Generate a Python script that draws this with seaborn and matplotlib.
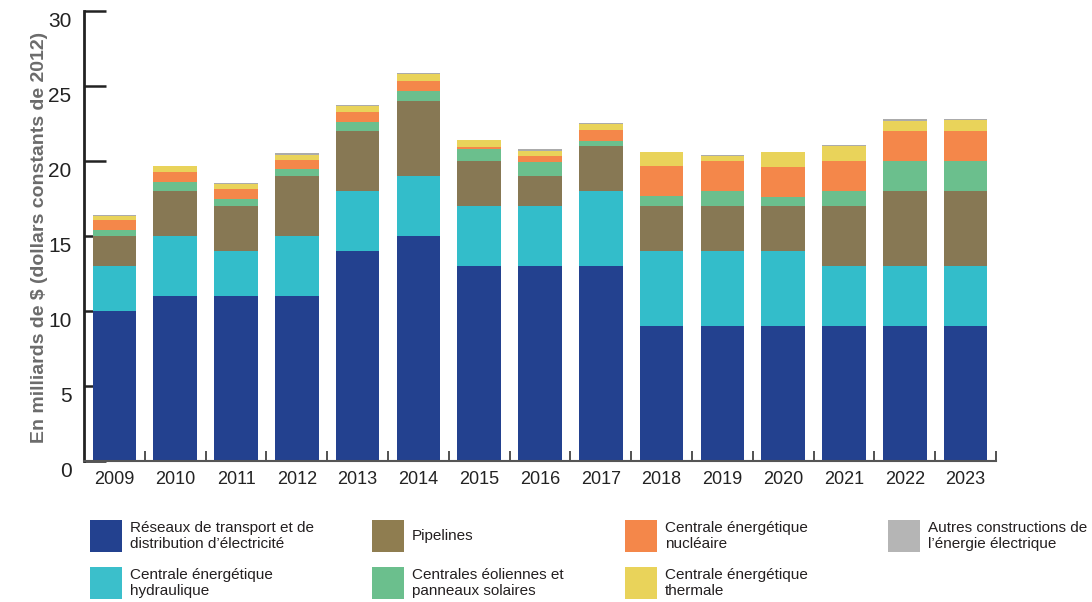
import matplotlib
matplotlib.use("Agg")
import matplotlib.pyplot as plt
import matplotlib.transforms as mtransforms
from matplotlib.patches import Rectangle
import numpy as np
import pandas as pd
import seaborn as sns

years = ["2009", "2010", "2011", "2012", "2013", "2014", "2015", "2016",
         "2017", "2018", "2019", "2020", "2021", "2022", "2023"]

reseaux     = [10, 11, 11, 11, 14, 15, 13, 13, 13, 9, 9, 9, 9, 9, 9]
hydraulique = [3, 4, 3, 4, 4, 4, 4, 4, 5, 5, 5, 5, 4, 4, 4]
pipelines   = [2, 3, 3, 4, 4, 5, 3, 2, 3, 3, 3, 3, 4, 5, 5]
eoliennes   = [0.4, 0.6, 0.5, 0.5, 0.6, 0.67, 0.8, 0.93, 0.33, 0.67, 1.0, 0.6, 1.0, 2.0, 2.0]
nucleaire   = [0.67, 0.65, 0.65, 0.6, 0.67, 0.67, 0.13, 0.4, 0.73, 2.0, 2.0, 2.0, 2.0, 2.0, 2.0]
thermale    = [0.27, 0.4, 0.33, 0.33, 0.4, 0.47, 0.47, 0.33, 0.4, 0.93, 0.33, 1.0, 1.0, 0.67, 0.73]
autres      = [0.07, 0.0, 0.07, 0.07, 0.07, 0.07, 0.0, 0.13, 0.07, 0.0, 0.07, 0.0, 0.07, 0.13, 0.07]

series_labels = [
    "Réseaux de transport et de\ndistribution d\u2019électricité",
    "Centrale énergétique\nhydraulique",
    "Pipelines",
    "Centrales éoliennes et\npanneaux solaires",
    "Centrale énergétique\nnucléaire",
    "Centrale énergétique\nthermale",
    "Autres constructions de\nl\u2019énergie électrique",
]
series_values = [reseaux, hydraulique, pipelines, eoliennes, nucleaire, thermale, autres]
colors = ["#23418f", "#33bdca", "#877854", "#6bbf8d", "#f4874a", "#e9d35a", "#ababab"]
legend_colors = ["#23418f", "#3bbfcb", "#8f7d50", "#6bbf8d", "#f4874a", "#e9d35a", "#b5b5b5"]

sns.set_theme(style="white")
FONT = ["Liberation Sans", "DejaVu Sans"]
plt.rcParams["font.family"] = FONT

fig = plt.figure(figsize=(10.92, 6.02), dpi=100)
ax = fig.add_axes([84 / 1092, 1 - 461 / 602, (996 - 84) / 1092, (461 - 11) / 602])

bottom = np.zeros(len(years))
for vals, col in zip(series_values, colors):
    df = pd.DataFrame({"year": years, "value": vals})
    sns.barplot(data=df, x="year", y="value", color=col, width=0.72,
                bottom=bottom, ax=ax, edgecolor="none", linewidth=0,
                saturation=1, errorbar=None)
    bottom = bottom + np.array(vals)

ax.set_xlim(-0.5, len(years) - 0.5)
ax.set_ylim(0, 30)
ax.set_yticks([0, 5, 10, 15, 20, 25, 30])
ax.set_axisbelow(True)

for s in ["top", "right"]:
    ax.spines[s].set_visible(False)
ax.spines["left"].set_color("#222222")
ax.spines["left"].set_linewidth(2)
ax.spines["bottom"].set_color("#555555")
ax.spines["bottom"].set_linewidth(1.5)

ax.tick_params(axis="y", direction="in", length=16, width=1.8, color="#222222",
               labelsize=15, labelcolor="#222222", pad=9, left=True)
ax.tick_params(axis="x", which="major", length=0, labelsize=13,
               labelcolor="#222222", pad=7)
ax.set_xticks(np.arange(len(years)) + 0.5, minor=True)
ax.tick_params(axis="x", which="minor", direction="in", length=7, width=1.2,
               color="#333333", bottom=True)

offset = mtransforms.ScaledTranslation(0, -6 / 72, fig.dpi_scale_trans)
for lab in ax.get_yticklabels():
    lab.set_transform(lab.get_transform() + offset)

ax.set_xlabel("")
ax.set_ylabel("En milliards de $ (dollars constants de 2012)", fontsize=14,
              fontweight="bold", color="#6b6b6b")
ax.yaxis.set_label_coords(-0.040, 0.497)

# legend (column-major, 4 columns x 2 rows)
col_x = [90, 372, 625, 888]
row_y = [520, 567]
for i, (lab, col) in enumerate(zip(series_labels, legend_colors)):
    c, r = divmod(i, 2)
    px, py = col_x[c], row_y[r]
    fig.patches.append(Rectangle((px / 1092, 1 - (py + 32) / 602), 32 / 1092, 32 / 602,
                                 transform=fig.transFigure, facecolor=col,
                                 edgecolor="none"))
    fig.text((px + 40) / 1092, 1 - (py + 16) / 602, lab, fontsize=11,
             color="#231f20", va="center", ha="left", linespacing=1.15)

fig.savefig("out.png", dpi=100)
